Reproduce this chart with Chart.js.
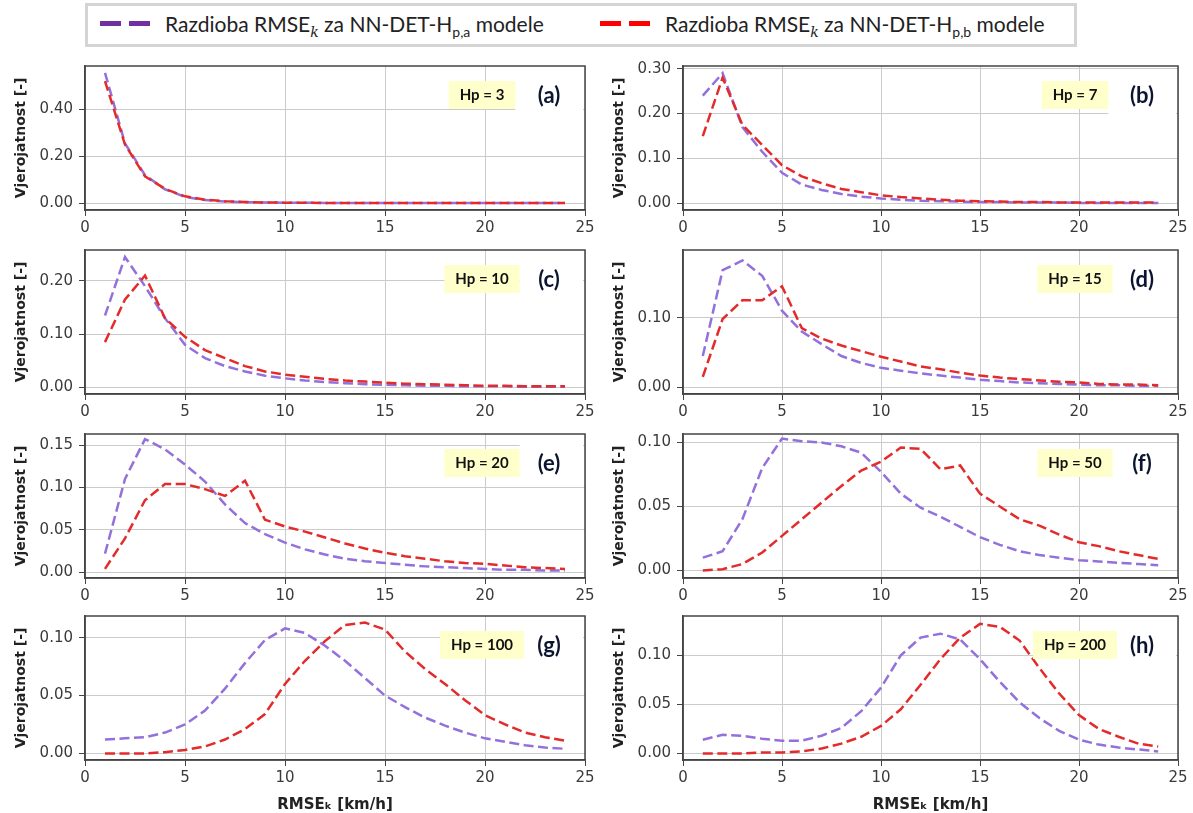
<!DOCTYPE html>
<html>
<head>
<meta charset="utf-8">
<title>Razdioba RMSE</title>
<script src="https://cdn.jsdelivr.net/npm/chart.js@4.4.1/dist/chart.umd.min.js"></script>
<style>
  body { margin: 0; background: #fff; }
  #page { position: relative; width: 1193px; height: 813px; overflow: hidden; }
  #page canvas { position: absolute; }
  #legend { position: absolute; left: 85px; top: 3px; width: 986px; height: 38px; border: 3px solid #d4d4d4; background: #fff;
            font-family: Lato, sans-serif; font-size: 21px; color: #222; z-index: 2; }
  .entry { position: absolute; top: 5px; display: flex; align-items: center; white-space: nowrap; }
  .swatch { width: 50px; height: 5px; margin-right: 15px; }
  .entry sub { font-size: 14px; line-height: 0; }
  .entry sub i { font-family: 'DejaVu Serif', serif; }
</style>
</head>
<body>
<div id="page">
  <div id="legend">
    <div class="entry" style="left:12px">
      <span class="swatch" style="background:linear-gradient(to right,#7030a0 0 21px,transparent 21px 29px,#7030a0 29px 50px)"></span>
      <span>Razdioba RMSE<sub><i>k</i></sub> za NN-DET-H<sub>p,a</sub> modele</span>
    </div>
    <div class="entry" style="left:512px">
      <span class="swatch" style="background:linear-gradient(to right,#ff0000 0 21px,transparent 21px 29px,#ff0000 29px 50px)"></span>
      <span>Razdioba RMSE<sub><i>k</i></sub> za NN-DET-H<sub>p,b</sub> modele</span>
    </div>
  </div>
</div>
<script>
// RMSE_k bins (km/h)
const rmseK = [1, 2, 3, 4, 5, 6, 7, 8, 9, 10, 11, 12, 13, 14, 15, 16, 17, 18, 19, 20, 21, 22, 23, 24];

// probability per bin, Hp,a models (purple) and Hp,b models (red)
const hp3_pa = [0.555, 0.255, 0.12, 0.06, 0.028, 0.014, 0.008, 0.005, 0.004, 0.003, 0.003, 0.002, 0.002, 0.002, 0.002, 0.002, 0.002, 0.002, 0.002, 0.002, 0.002, 0.002, 0.002, 0.002];
const hp3_pb = [0.52, 0.25, 0.115, 0.062, 0.03, 0.016, 0.009, 0.006, 0.004, 0.003, 0.003, 0.002, 0.002, 0.002, 0.002, 0.002, 0.002, 0.002, 0.002, 0.002, 0.002, 0.002, 0.002, 0.002];
const hp7_pa = [0.24, 0.29, 0.17, 0.115, 0.068, 0.042, 0.03, 0.021, 0.015, 0.011, 0.008, 0.006, 0.005, 0.004, 0.003, 0.003, 0.002, 0.002, 0.002, 0.001, 0.001, 0.001, 0.001, 0.001];
const hp7_pb = [0.15, 0.28, 0.175, 0.13, 0.085, 0.06, 0.045, 0.032, 0.025, 0.018, 0.014, 0.011, 0.008, 0.006, 0.005, 0.004, 0.003, 0.003, 0.002, 0.002, 0.002, 0.002, 0.002, 0.002];
const hp10_pa = [0.135, 0.245, 0.19, 0.13, 0.08, 0.055, 0.04, 0.03, 0.022, 0.017, 0.013, 0.01, 0.008, 0.006, 0.005, 0.004, 0.003, 0.003, 0.002, 0.002, 0.002, 0.001, 0.001, 0.001];
const hp10_pb = [0.085, 0.165, 0.21, 0.13, 0.095, 0.07, 0.055, 0.04, 0.03, 0.024, 0.02, 0.016, 0.013, 0.011, 0.009, 0.007, 0.006, 0.005, 0.004, 0.003, 0.003, 0.002, 0.002, 0.002];
const hp15_pa = [0.045, 0.168, 0.182, 0.16, 0.11, 0.08, 0.062, 0.045, 0.035, 0.028, 0.024, 0.02, 0.017, 0.014, 0.011, 0.009, 0.007, 0.006, 0.005, 0.004, 0.003, 0.003, 0.002, 0.002];
const hp15_pb = [0.015, 0.098, 0.125, 0.125, 0.145, 0.085, 0.07, 0.06, 0.052, 0.044, 0.037, 0.03, 0.026, 0.021, 0.017, 0.014, 0.012, 0.01, 0.008, 0.007, 0.005, 0.004, 0.004, 0.003];
const hp20_pa = [0.022, 0.11, 0.157, 0.145, 0.127, 0.107, 0.08, 0.058, 0.045, 0.035, 0.027, 0.021, 0.016, 0.013, 0.011, 0.009, 0.007, 0.006, 0.005, 0.004, 0.003, 0.003, 0.002, 0.002];
const hp20_pb = [0.004, 0.04, 0.085, 0.104, 0.104, 0.098, 0.09, 0.108, 0.062, 0.054, 0.048, 0.041, 0.034, 0.028, 0.023, 0.019, 0.016, 0.013, 0.011, 0.01, 0.008, 0.006, 0.005, 0.004];
const hp50_pa = [0.01, 0.015, 0.04, 0.08, 0.103, 0.101, 0.1, 0.097, 0.092, 0.077, 0.06, 0.049, 0.042, 0.034, 0.026, 0.02, 0.015, 0.012, 0.01, 0.008, 0.007, 0.006, 0.005, 0.004];
const hp50_pb = [0.0, 0.001, 0.005, 0.014, 0.027, 0.04, 0.053, 0.066, 0.078, 0.085, 0.096, 0.095, 0.079, 0.082, 0.06, 0.05, 0.04, 0.035, 0.028, 0.022, 0.019, 0.015, 0.012, 0.009];
const hp100_pa = [0.012, 0.013, 0.014, 0.018, 0.025, 0.037, 0.056, 0.078, 0.098, 0.108, 0.104, 0.093, 0.08, 0.065, 0.05, 0.04, 0.031, 0.024, 0.018, 0.013, 0.01, 0.007, 0.005, 0.004];
const hp100_pb = [0.0, 0.0, 0.0, 0.001, 0.003, 0.006, 0.012, 0.021, 0.034, 0.06, 0.08, 0.097, 0.111, 0.113, 0.107, 0.088, 0.073, 0.06, 0.046, 0.033, 0.025, 0.018, 0.014, 0.011];
const hp200_pa = [0.014, 0.019, 0.018, 0.015, 0.013, 0.013, 0.018, 0.026, 0.043, 0.067, 0.1, 0.118, 0.122, 0.116, 0.096, 0.073, 0.052, 0.036, 0.023, 0.014, 0.009, 0.006, 0.004, 0.002];
const hp200_pb = [0.0, 0.0, 0.0, 0.001, 0.001, 0.002, 0.005, 0.01, 0.017, 0.028, 0.045, 0.07, 0.096, 0.118, 0.132, 0.129, 0.115, 0.087, 0.061, 0.039, 0.025, 0.017, 0.01, 0.007];

// y tick labels per panel
const yTicks3 = [0, 0.2, 0.4];
const yTicks7 = [0, 0.1, 0.2, 0.3];
const yTicks10 = [0, 0.1, 0.2];
const yTicks15 = [0, 0.1];
const yTicks20 = [0, 0.05, 0.1, 0.15];
const yTicksLate = [0, 0.05, 0.1];

const panels = [
  { letter: '(a)', hp: 'Hp = 3',   pa: hp3_pa,   pb: hp3_pb,   ticks: yTicks3,    min: -0.028,  max: 0.584 },
  { letter: '(b)', hp: 'Hp = 7',   pa: hp7_pa,   pb: hp7_pb,   ticks: yTicks7,    min: -0.0147, max: 0.306 },
  { letter: '(c)', hp: 'Hp = 10',  pa: hp10_pa,  pb: hp10_pb,  ticks: yTicks10,   min: -0.0124, max: 0.258 },
  { letter: '(d)', hp: 'Hp = 15',  pa: hp15_pa,  pb: hp15_pb,  ticks: yTicks15,   min: -0.0095, max: 0.197 },
  { letter: '(e)', hp: 'Hp = 20',  pa: hp20_pa,  pb: hp20_pb,  ticks: yTicks20,   min: -0.0067, max: 0.163 },
  { letter: '(f)', hp: 'Hp = 50',  pa: hp50_pa,  pb: hp50_pb,  ticks: yTicksLate, min: -0.0059, max: 0.1066 },
  { letter: '(g)', hp: 'Hp = 100', pa: hp100_pa, pb: hp100_pb, ticks: yTicksLate, min: -0.0057, max: 0.1187 },
  { letter: '(h)', hp: 'Hp = 200', pa: hp200_pa, pb: hp200_pb, ticks: yTicksLate, min: -0.0067, max: 0.140 }
];

// layout of the 4x2 grid
const rowTop = [57, 241, 425, 607];
const plotH = 153;
const colLeft = [0, 598];
const colW = [600, 595];
const padTop = 6;

const tickFont = { family: 'DejaVu Sans', size: 15 };
const titleFont = { family: 'DejaVu Sans', size: 14, weight: 'bold' };
const inkColor = '#3a3a3a';

// frame + Hp box + panel letter
const panelTag = {
  id: 'panelTag',
  afterDatasetsDraw(chart, args, opts) {
    const { ctx, chartArea: a } = chart;
    ctx.save();
    ctx.font = 'bold 15px Lato';
    const w = ctx.measureText(opts.hp).width + 22;
    const cx = a.right - 103, cy = a.top + 29;
    ctx.fillStyle = '#fff';
    ctx.fillRect(cx + w / 2, cy - 18, a.right - (cx + w / 2) - 2, 37);
    ctx.fillStyle = '#ffffcc';
    ctx.fillRect(cx - w / 2, cy - 14, w, 28);
    ctx.fillStyle = '#111';
    ctx.textAlign = 'center';
    ctx.textBaseline = 'middle';
    ctx.fillText(opts.hp, cx, cy);
    ctx.font = 'bold 22px Lato';
    ctx.fillStyle = '#0b1530';
    ctx.fillText(opts.letter, a.right - 36, cy + 1);

    ctx.strokeStyle = '#444';
    ctx.lineWidth = 1.5;
    ctx.strokeRect(a.left, a.top, a.right - a.left, a.bottom - a.top);
    ctx.restore();
  }
};

const page = document.getElementById('page');

panels.forEach((p, i) => {
  const row = Math.floor(i / 2), col = i % 2;
  const bottomRow = row === 3;
  const xH = bottomRow ? 54 : 28;
  const canvas = document.createElement('canvas');
  canvas.width = colW[col];
  canvas.height = padTop + plotH + xH;
  canvas.style.left = colLeft[col] + 'px';
  canvas.style.top = (rowTop[row] - padTop) + 'px';
  page.appendChild(canvas);

  new Chart(canvas, {
    type: 'line',
    data: {
      datasets: [
        {
          label: 'NN-DET-Hp,a',
          data: rmseK.map((x, k) => ({ x: x, y: p.pa[k] })),
          borderColor: '#9370db',
          borderWidth: 2.5,
          borderDash: [10, 4.5],
          pointRadius: 0,
          order: 2
        },
        {
          label: 'NN-DET-Hp,b',
          data: rmseK.map((x, k) => ({ x: x, y: p.pb[k] })),
          borderColor: '#e32b2b',
          borderWidth: 2.5,
          borderDash: [10, 4.5],
          pointRadius: 0,
          order: 1
        }
      ]
    },
    options: {
      responsive: false,
      animation: false,
      layout: { padding: { top: padTop, right: 15, left: 0, bottom: 0 } },
      plugins: {
        legend: { display: false },
        tooltip: { enabled: false },
        panelTag: { hp: p.hp, letter: p.letter }
      },
      scales: {
        x: {
          type: 'linear',
          min: 0,
          max: 25,
          ticks: { stepSize: 5, font: tickFont, color: inkColor, padding: 3, maxRotation: 0 },
          grid: { color: '#cbcbcb', tickColor: '#444', tickLength: 6 },
          border: { color: '#444', width: 1.5 },
          title: {
            display: bottomRow,
            text: 'RMSEₖ [km/h]',
            font: { family: 'DejaVu Sans', size: 15, weight: 'bold' },
            color: '#222',
            padding: { top: 5, bottom: 0 }
          },
          afterFit: s => { s.height = xH; }
        },
        y: {
          min: p.min,
          max: p.max,
          afterBuildTicks: s => { s.ticks = p.ticks.map(v => ({ value: v })); },
          ticks: { font: tickFont, color: inkColor, padding: 6, callback: v => v.toFixed(2) },
          grid: { color: '#cbcbcb', tickColor: '#444', tickLength: 6 },
          border: { color: '#444', width: 1.5 },
          title: {
            display: true,
            text: 'Vjerojatnost [-]',
            font: titleFont,
            color: '#222',
            padding: { top: 13, bottom: 0 }
          },
          afterFit: s => { s.width = 85; }
        }
      }
    },
    plugins: [panelTag]
  });
});
</script>
</body>
</html>
